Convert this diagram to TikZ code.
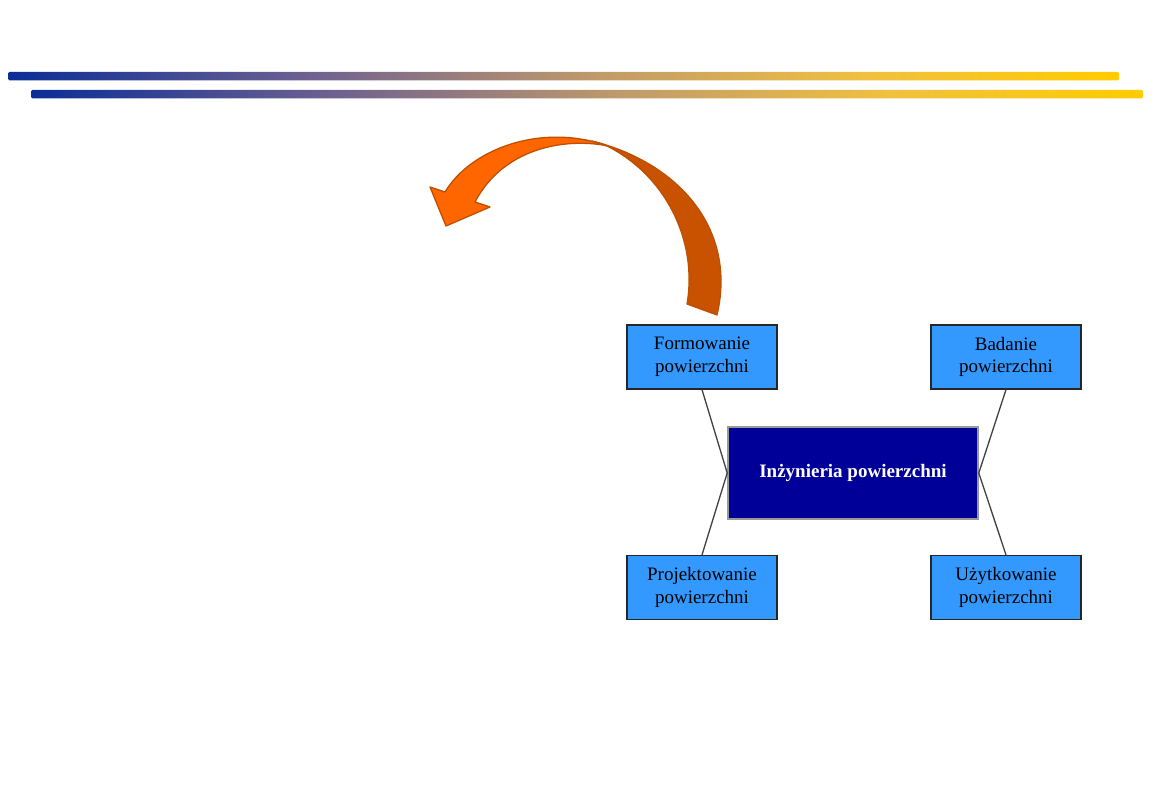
\documentclass[tikz,border=0pt]{standalone}
\usepackage{fontspec}
\setmainfont{Liberation Serif}
\definecolor{bc0}{RGB}{10,45,150}
\definecolor{bc1}{RGB}{110,96,144}
\definecolor{bc2}{RGB}{192,154,106}
\definecolor{bc3}{RGB}{240,192,64}
\definecolor{bc4}{RGB}{255,204,0}
\pgfdeclarehorizontalshading{barsh}{100bp}{color(0bp)=(bc0); color(25bp)=(bc0); color(38.5bp)=(bc1); color(51.5bp)=(bc2); color(63.5bp)=(bc3); color(75bp)=(bc4); color(100bp)=(bc4)}
\definecolor{boxblue}{RGB}{51,153,255}
\definecolor{navy}{RGB}{0,0,153}
\definecolor{arrlight}{RGB}{255,102,0}
\definecolor{arrdark}{RGB}{200,82,0}
\definecolor{arredge}{RGB}{190,80,0}
\definecolor{linkgray}{RGB}{64,64,64}
\tikzset{
  topicbox/.style={draw=black!85, line width=1.2pt, fill=boxblue, minimum width=150pt, minimum height=64pt, inner sep=0pt, align=center, font=\fontsize{19}{22.7}\selectfont, text=black},
  mainbox/.style={draw=gray!80, line width=1.6pt, fill=navy, minimum width=250pt, minimum height=92pt, inner sep=0pt, font=\fontsize{19}{22}\selectfont\bfseries, text=white},
  link/.style={draw=linkgray, line width=1.3pt},
  barshade/.style={shading=barsh, rounded corners=1.5pt},
  arrowpart/.style={draw=arredge, line width=1.3pt, line join=round}
}
\begin{document}
\begin{tikzpicture}[x=1pt,y=-1pt]
\useasboundingbox (0,0) rectangle (1170,810);
% header bars
\shade[barshade] (8,72) rectangle (1119,80.5);
\shade[barshade] (31,90) rectangle (1143,98.5);
% curved arrow: dark (back) part
\filldraw[arrowpart, fill=arrdark] (592,141) .. controls (680,163) and (737,230) .. (717,315)
  -- (687,304) .. controls (698,240) and (665,175) .. (607,146) -- cycle;
% curved arrow: light (front) part with head
\filldraw[arrowpart, fill=arrlight] (445,192) .. controls (470,150) and (540,122) .. (608,146)
  .. controls (570,138) and (505,145) .. (475,202)
  -- (490,207) -- (446,226) -- (430,187) -- cycle;
% nodes
\node[mainbox] (c) at (853,473) {\raisebox{3pt}{Inżynieria powierzchni}};
\node[topicbox] (f) at (702,357) {Formowanie\\powierzchni};
\node[topicbox] (b) at (1006,357) {Badanie\\powierzchni};
\node[topicbox] (p) at (702,587.5) {Projektowanie\\powierzchni};
\node[topicbox] (u) at (1006,587.5) {Użytkowanie\\powierzchni};
% connectors
\draw[link] (f.south) -- (c.west);
\draw[link] (p.north) -- (c.west);
\draw[link] (b.south) -- (c.east);
\draw[link] (u.north) -- (c.east);
\end{tikzpicture}
\end{document}
